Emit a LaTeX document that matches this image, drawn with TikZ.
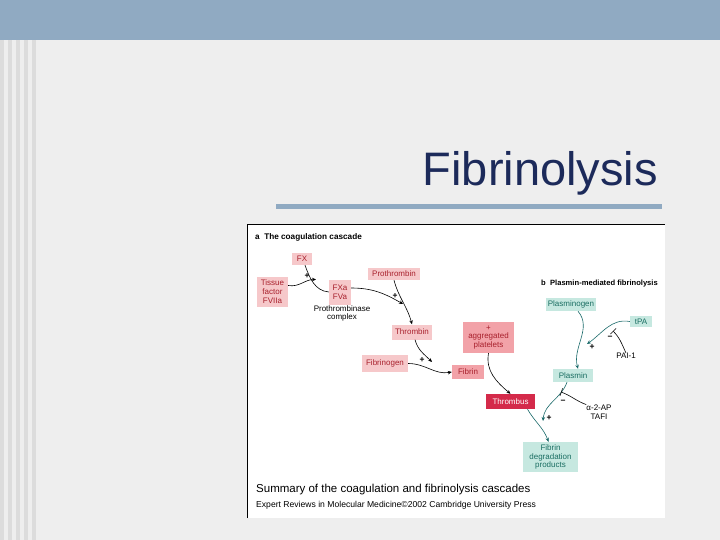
\documentclass[tikz,border=0pt]{standalone}
\usepackage{fontspec}
\setmainfont{Liberation Sans}
\usetikzlibrary{arrows.meta}
\definecolor{barblue}{HTML}{90AAC2}
\definecolor{bggray}{HTML}{EEEEEE}
\definecolor{leftgray}{HTML}{DCDCDC}
\definecolor{titlecol}{HTML}{1C2A5A}
\definecolor{pinkfill}{HTML}{F6C8CA}
\definecolor{pinktext}{HTML}{A8202C}
\definecolor{darkpink}{HTML}{F2A2A8}
\definecolor{thrombus}{HTML}{D42A4A}
\definecolor{tealfill}{HTML}{C6E8E0}
\definecolor{tealtext}{HTML}{1A6E62}
\definecolor{tealline}{HTML}{1A6A6A}
\begin{document}
\begin{tikzpicture}[x=1pt,y=-1pt,
  boxfont/.style={font=\fontsize{8}{8.8}\selectfont},
  pinkbox/.style={boxfont, fill=pinkfill, text=pinktext, inner sep=0pt, align=center},
  dpinkbox/.style={boxfont, fill=darkpink, text=pinktext, inner sep=0pt, align=center},
  redbox/.style={boxfont, fill=thrombus, text=white, inner sep=0pt, align=center},
  tealbox/.style={boxfont, fill=tealfill, text=tealtext, inner sep=0pt, align=center},
  plain/.style={boxfont, inner sep=0pt, align=center},
  sign/.style={font=\fontsize{8.5}{8.5}\bfseries\selectfont, inner sep=0pt},
  blk/.style={draw=black, line width=0.6pt, -{Stealth[length=4pt,width=3.5pt]}},
  tl/.style={draw=tealline, line width=0.6pt, -{Stealth[length=4pt,width=3.5pt]}},
  inh/.style={draw=black, line width=0.6pt, -{Bar[width=8pt]}}
]
\useasboundingbox (0,0) rectangle (720,540);
% background
\fill[bggray] (0,0) rectangle (720,540);
\foreach \x in {0,8,16,24,32} {\fill[leftgray] (\x,40) rectangle (\x+4,540);}
\fill[barblue] (0,0) rectangle (720,40);
% title
\node[anchor=base east, text=titlecol, inner sep=0pt, font=\fontsize{47}{52}\selectfont] (title) at (658,186) {Fibrinolysis};
\fill[barblue] (276,204) rectangle (662,209);
% figure panel
\fill[white] (247,224) rectangle (665,518);
\draw[black, line width=0.8pt] (247,518) -- (247,224.5) -- (665,224.5);

% headings
\node[anchor=west, inner sep=0pt, font=\fontsize{8.2}{9}\bfseries\selectfont] (ha) at (255,237) {a\ \ The coagulation cascade};
\node[anchor=east, inner sep=0pt, font=\fontsize{7.6}{8}\bfseries\selectfont] (hb) at (658,284) {b\ \ Plasmin-mediated fibrinolysis};

% coagulation boxes
\node[pinkbox, minimum width=20pt, minimum height=12pt] (fx) at (302,259) {FX};
\node[pinkbox, minimum width=31pt, minimum height=30pt] (tf) at (272.5,291.5) {Tissue\\factor\\FVIIa};
\node[pinkbox, minimum width=22pt, minimum height=25pt] (fxa) at (340,292) {FXa\\FVa};
\node[pinkbox, minimum width=52pt, minimum height=12pt] (pt) at (394,274) {Prothrombin};
\node[plain] (ptc) at (342,313.5) {Prothrombinase\\complex};
\node[pinkbox, minimum width=40pt, minimum height=15pt] (th) at (412,332) {Thrombin};
\node[pinkbox, minimum width=46pt, minimum height=17pt] (fg) at (385,363.5) {Fibrinogen};
\node[dpinkbox, minimum width=51pt, minimum height=31pt] (pl) at (488.5,337.5) {+\\aggregated\\platelets};
\node[dpinkbox, minimum width=32pt, minimum height=14pt] (fb) at (468,372) {Fibrin};
\node[redbox, minimum width=49pt, minimum height=15pt] (tb) at (510.5,401.5) {Thrombus};

% fibrinolysis boxes
\node[tealbox, minimum width=50pt, minimum height=13pt] (pg) at (571,304.5) {Plasminogen};
\node[tealbox, minimum width=22pt, minimum height=11pt] (tpa) at (641,321.5) {tPA};
\node[plain] (pai) at (626,356) {PAI-1};
\node[tealbox, minimum width=40pt, minimum height=13pt] (pm) at (573,375.5) {Plasmin};
\node[plain] (a2ap) at (599,412) {α-2-AP\\TAFI};
\node[tealbox, minimum width=55pt, minimum height=30pt] (fdp) at (550.5,457) {Fibrin\\degradation\\products};

% captions
\node[anchor=west, inner sep=0pt, font=\fontsize{11.5}{13}\selectfont] (cap1) at (256,490) {Summary of the coagulation and fibrinolysis cascades};
\node[anchor=west, inner sep=0pt, font=\fontsize{8.6}{9}\selectfont] (cap2) at (256,505) {Expert Reviews in Molecular Medicine©2002 Cambridge University Press};

% free ends
\coordinate (e1) at (316,279.5);
\coordinate (e2) at (403,304);
\coordinate (e3) at (432,362);
\coordinate (e4) at (587,344);
\coordinate (e5) at (613,331);
\coordinate (e6) at (543,421);
\coordinate (e7) at (561,392);

% coagulation connectors
\draw[line width=0.6pt] (fx.south) ++(3,0) coordinate (fxs) (fxs) to[out=-70, in=175] (fxa.west);
\draw[blk] (tf.east) ++(0,-6) coordinate (tfe) (tfe) to[out=-10, in=180] (e1);
\draw[blk] (fxa.east) ++(0,-4) coordinate (fxae) (fxae) to[out=0, in=150] (e2);
\draw[blk] (pt.south) to[out=-75, in=105] (th.north);
\draw[blk] (th.south) ++(3,0) coordinate (ths) (ths) to[out=-75, in=135] (e3);
\draw[blk] (fg.east) to[out=0, in=190] (fb.west);
\draw[blk] (pl.south) to[out=-100, in=140] (tb.north);

% fibrinolysis connectors
\draw[tl] (pg.south) ++(7,0) coordinate (pgs) (pgs) to[out=-50, in=105] ([xshift=5pt]pm.north);
\draw[tl] (tpa.west) to[out=170, in=35] (e4);
\draw[inh] (pai.north) to[out=115, in=-45] (e5);
\draw[tl] (pm.south) ++(-6,0) coordinate (pms) (pms) to[out=-110, in=85] (e6);
\draw[inh] (a2ap.north west) to[out=160, in=-20] (e7);
\draw[tl] (tb.south) ++(17,0) coordinate (tbs) (tbs) to[out=-60, in=110] ([xshift=-2pt]fdp.north);

% signs
\node[sign] (p1) at (307,276) {+};
\node[sign] (p2) at (395,296) {+};
\node[sign] (p3) at (422,360) {+};
\node[sign] (p4) at (592,347) {+};
\node[sign] (m1) at (610,338) {−};
\node[sign] (m2) at (563,402) {−};
\node[sign] (p5) at (549,418) {+};
\end{tikzpicture}
\end{document}
